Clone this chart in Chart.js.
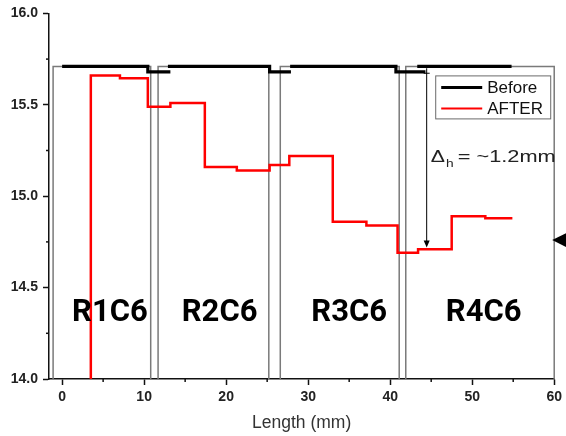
<!DOCTYPE html>
<html><head><meta charset="utf-8">
<script src="https://cdn.jsdelivr.net/npm/chart.js@4"></script>
<style>html,body{margin:0;padding:0;background:#fff}#wrap{width:566px;height:436px;position:relative}canvas{display:block}</style>
</head><body><div id="wrap"><canvas id="c" width="566" height="436"></canvas></div>
<script>
// ---- data ----
const afterX = [3.5, 3.5, 7.05, 10.45, 13.2, 17.4, 21.3, 25.3, 27.7, 33.0, 37.1, 40.9, 43.4, 47.5, 51.6, 54.9];
const afterY = [14.0, 15.66, 15.645, 15.49, 15.51, 15.16, 15.14, 15.17, 15.22, 14.86, 14.84, 14.69, 14.71, 14.89, 14.88, 14.88];
const beforeX = [0, 10.45, 13.2, 13.2, 12.9, 25.3, 27.9, 27.9, 27.8, 40.7, 44.3, 44.3, 43.3, 54.8];
const beforeY = [15.71, 15.68, 15.68, null, 15.71, 15.68, 15.68, null, 15.71, 15.68, 15.68, null, 15.71, 15.71];
const regionLabels = ['R1C6', 'R2C6', 'R3C6', 'R4C6'];
const regionLeft = [-1.1, 11.7, 26.6, 41.9];
const regionRight = [10.8, 25.2, 41.1, 60.0];
const regionTop = 15.71;
const regionBottom = 14.0;
const labelX = [5.83, 19.2, 35.0, 51.4];
const labelY = 14.36;
const xTicks = [0, 10, 20, 30, 40, 50, 60];
const yTicks = [14.0, 14.5, 15.0, 15.5, 16.0];
const xMinor = [5, 15, 25, 35, 45, 55];
const yMinor = [14.25, 14.75, 15.25, 15.75];
const deltaX = 44.45, deltaTop = 15.70, deltaBottom = 14.72;
const deltaText = ['Δ', 'h', '= ~1.2mm'];
const markerY = 14.76;
const seriesNames = ['Before', 'AFTER'];

const toPts = (xs, ys) => xs.map((x, i) => ({x: x, y: ys[i]}));
const boxSets = regionLeft.map((L, i) => ({
  label: 'box' + i,
  data: [{x: L, y: regionBottom}, {x: L, y: regionTop}, {x: regionRight[i], y: regionTop}, {x: regionRight[i], y: regionBottom}],
  borderColor: '#7a7a7a', borderWidth: 1.5, showLine: true, pointRadius: 0, order: 3, clip: false
}));

const annot = {
  id: 'annot',
  afterDraw(chart) {
    const ctx = chart.ctx, xs = chart.scales.x, ys = chart.scales.y, ca = chart.chartArea;
    ctx.save();
    // minor ticks
    ctx.strokeStyle = '#111'; ctx.lineWidth = 1.5;
    yMinor.forEach(v => { const p = ys.getPixelForValue(v); ctx.beginPath(); ctx.moveTo(ca.left - 3, p); ctx.lineTo(ca.left, p); ctx.stroke(); });
    xMinor.forEach(v => { const p = xs.getPixelForValue(v); ctx.beginPath(); ctx.moveTo(p, ca.bottom); ctx.lineTo(p, ca.bottom + 3); ctx.stroke(); });
    // region labels
    ctx.fillStyle = '#000'; ctx.font = 'bold 31px Roboto'; ctx.textAlign = 'center'; ctx.textBaseline = 'middle';
    regionLabels.forEach((t, i) => ctx.fillText(t, xs.getPixelForValue(labelX[i]), ys.getPixelForValue(labelY)));
    // delta arrow
    const ax = xs.getPixelForValue(deltaX), at = ys.getPixelForValue(deltaTop), ab = ys.getPixelForValue(deltaBottom);
    ctx.strokeStyle = '#000'; ctx.lineWidth = 1;
    ctx.beginPath(); ctx.moveTo(ax, at); ctx.lineTo(ax, ab - 4); ctx.stroke();
    ctx.beginPath(); ctx.moveTo(ax - 3, at + 5); ctx.lineTo(ax + 3, at + 5); ctx.stroke();
    ctx.beginPath(); ctx.moveTo(ax, ab); ctx.lineTo(ax - 3, ab - 7); ctx.lineTo(ax + 3, ab - 7); ctx.closePath(); ctx.fill();
    // delta text (horizontally stretched like the reference)
    ctx.textAlign = 'left'; ctx.textBaseline = 'alphabetic'; ctx.fillStyle = '#222';
    const tx = ax + 4, ty = ys.getPixelForValue(15.185);
    ctx.save();
    ctx.translate(tx, ty); ctx.scale(1.25, 1);
    ctx.font = '17px "Liberation Sans"';
    ctx.fillText(deltaText[0], 0, 0);
    const w0 = ctx.measureText(deltaText[0]).width;
    ctx.font = '11px "Liberation Sans"';
    ctx.fillText(deltaText[1], w0 + 1, 5);
    ctx.restore();
    ctx.save();
    ctx.translate(tx + 27, ty); ctx.scale(1.28, 1);
    ctx.font = '17px "Liberation Sans"';
    ctx.fillText(deltaText[2], 0, 0);
    ctx.restore();
    // right marker triangle
    const my = ys.getPixelForValue(markerY);
    ctx.fillStyle = '#000';
    ctx.beginPath(); ctx.moveTo(ca.right - 2, my); ctx.lineTo(ca.right + 12, my - 7); ctx.lineTo(ca.right + 12, my + 7); ctx.closePath(); ctx.fill();
    // legend
    const lx = ca.right - 119, ly = ca.top + 62, lw = 115, lh = 43;
    ctx.fillStyle = '#fff'; ctx.fillRect(lx, ly, lw, lh);
    ctx.strokeStyle = '#6a6a6a'; ctx.lineWidth = 1; ctx.strokeRect(lx + 0.5, ly + 0.5, lw, lh);
    const dss = [chart.data.datasets[1], chart.data.datasets[0]];
    ctx.font = '17px "Liberation Sans"'; ctx.textBaseline = 'middle'; ctx.fillStyle = '#111';
    dss.forEach((d, i) => {
      const yy = ly + 12 + i * 21;
      ctx.strokeStyle = d.borderColor; ctx.lineWidth = i === 0 ? 3 : 2;
      ctx.beginPath(); ctx.moveTo(lx + 6, yy); ctx.lineTo(lx + 47, yy); ctx.stroke();
      ctx.fillStyle = '#111';
      ctx.fillText(seriesNames[i], lx + 52, yy + 1);
    });
    ctx.restore();
  }
};

new Chart(document.getElementById('c'), {
  type: 'scatter',
  data: {
    datasets: [
      {label: seriesNames[1], data: toPts(afterX, afterY), borderColor: '#ff0000', borderWidth: 2.5, showLine: true, stepped: true, pointRadius: 0, order: 1},
      {label: seriesNames[0], data: toPts(beforeX, beforeY), borderColor: '#000000', borderWidth: 3.2, showLine: true, stepped: true, pointRadius: 0, spanGaps: false, order: 2},
      ...boxSets
    ]
  },
  options: {
    responsive: false, animation: false, devicePixelRatio: 1,
    layout: {padding: {left: 0, right: 10, top: 13, bottom: 0}},
    plugins: {legend: {display: false}, tooltip: {enabled: false}},
    scales: {
      x: {
        type: 'linear', min: -1.6, max: 60,
        afterFit: s => { s.height = 57; },
        afterBuildTicks: s => { s.ticks = xTicks.map(v => ({value: v})); },
        grid: {drawOnChartArea: false, tickLength: 6, tickColor: '#111', tickWidth: 1.5},
        border: {color: '#111', width: 1.5},
        ticks: {font: {family: 'Liberation Sans', size: 14, weight: 'bold'}, color: '#222', padding: 4, maxRotation: 0, callback: v => String(v)},
        title: {display: true, text: 'Length (mm)', font: {family: 'Liberation Sans', size: 17.5}, color: '#333', padding: {top: 4, bottom: 2}}
      },
      y: {
        type: 'linear', min: 14, max: 16,
        afterFit: s => { s.width = 49; },
        afterBuildTicks: s => { s.ticks = yTicks.map(v => ({value: v})); },
        grid: {drawOnChartArea: false, tickLength: 6, tickColor: '#111', tickWidth: 1.5},
        border: {color: '#111', width: 1.5},
        ticks: {font: {family: 'Liberation Sans', size: 14, weight: 'bold'}, color: '#222', padding: 5, callback: v => v.toFixed(1)}
      }
    }
  },
  plugins: [annot]
});
</script></body></html>
